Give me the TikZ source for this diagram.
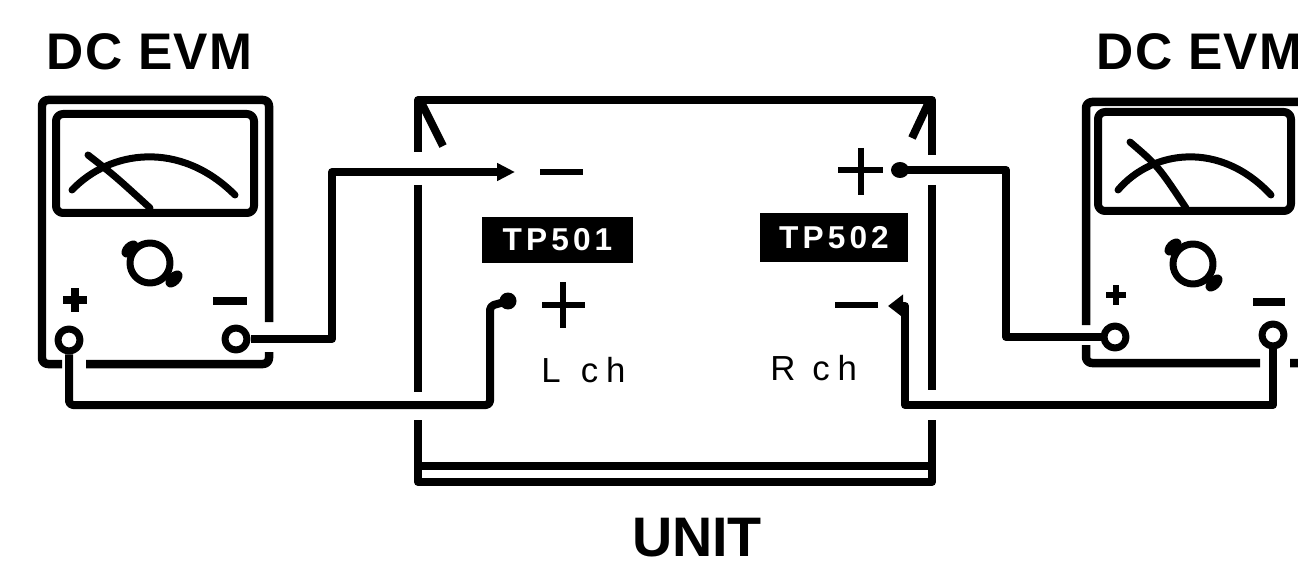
\documentclass[tikz,border=0pt]{standalone}
\usepackage{fontspec}
\newfontfamily\labelfont{Liberation Sans}
\newfontfamily\titlefont[LetterSpace=3]{Liberation Sans}
\newfontfamily\tpfont[LetterSpace=13]{Liberation Sans}
\usetikzlibrary{arrows.meta}
\begin{document}
\begin{tikzpicture}[x=0.02cm,y=-0.02cm,line join=round,
  frame/.style={line width=0.17cm, rounded corners=0.12cm},
  window/.style={line width=0.16cm, rounded corners=0.14cm},
  dial/.style={line width=0.14cm, line cap=round},
  box/.style={line width=0.16cm},
  wire/.style={line width=0.16cm},
  term/.style={circle, draw, line width=0.14cm, minimum size=0.44cm, inner sep=0pt, fill=white},
  sign/.style={line width=0.13cm},
  tpbox/.style={fill=black, text=white, inner sep=0pt, font=\tpfont\bfseries\fontsize{18}{18}\selectfont},
  title/.style={font=\titlefont\bfseries\fontsize{29.3}{30}\selectfont, inner sep=0pt, text depth=0pt},
  unitlabel/.style={font=\labelfont\bfseries\fontsize{31.7}{32}\selectfont, inner sep=0pt, text depth=0pt},
  chan/.style={font=\labelfont\fontsize{19.8}{20}\selectfont, inner sep=0pt, text depth=0pt}]
\useasboundingbox (0,0) rectangle (1298,564);
\clip (0,0) rectangle (1298,564);

% ---------- left DC EVM ----------
\node[title, anchor=base west] (evmL) at (46,70) {DC EVM};
\draw[frame] (62,364) -- (42,364) -- (42,100) -- (269,100) -- (269,322);
\draw[frame] (269,352) -- (269,364) -- (86,364);
\draw[window] (56,114) rectangle (254,213);
\draw[dial] (72,190) .. controls (110,150) and (180,140) .. (235,195);
\draw[dial] (88,155) .. controls (115,176) .. (150,208);
\draw[line width=0.14cm] (150,263) circle (0.4cm);
\fill[rotate around={45:(130,249)}] (130,249) ellipse (0.2cm and 0.13cm);
\fill[rotate around={45:(174,279)}] (174,279) ellipse (0.2cm and 0.13cm);
\draw[line width=0.15cm] (63,300) -- (87,300) (75,288) -- (75,312);
\draw[line width=0.15cm] (213,301) -- (247,301);
\node[term] (Lp) at (69,340) {};
\node[term] (Lm) at (236,339) {};

% ---------- right DC EVM ----------
\node[title, anchor=base west] (evmR) at (1096,70) {DC EVM};
\draw[frame] (1086,325) -- (1086,102) -- (1330,102) -- (1330,363) -- (1290,363);
\draw[frame] (1086,345) -- (1086,363) -- (1260,363);
\draw[window] (1098,112) rectangle (1291,211);
\draw[dial] (1118,190) .. controls (1152,150) and (1220,140) .. (1271,195);
\draw[dial] (1130,142) .. controls (1158,166) .. (1186,208);
\draw[line width=0.14cm] (1193,264) circle (0.4cm);
\fill[rotate around={45:(1173,247)}] (1173,247) ellipse (0.2cm and 0.13cm);
\fill[rotate around={45:(1214,283)}] (1214,283) ellipse (0.2cm and 0.13cm);
\draw[line width=0.13cm] (1106,295) -- (1126,295) (1116,285) -- (1116,305);
\draw[line width=0.15cm] (1253,302) -- (1285,302);
\node[term] (Rp) at (1115,337) {};
\node[term] (Rm) at (1273,335) {};

% ---------- unit under test ----------
\draw[box] (418,152) -- (418,100) -- (932,100) -- (932,155);
\draw[box] (418,185) -- (418,392);
\draw[box] (932,185) -- (932,390);
\draw[box] (418,420) -- (418,482) -- (932,482) -- (932,420);
\draw[box] (418,466) -- (932,466);
\draw[box] (422,104) -- (443,146);
\draw[box] (928,104) -- (912,138);
\node[unitlabel, anchor=base] (unit) at (697,556) {UNIT};

% test points
\node[tpbox, minimum width=3.02cm, minimum height=0.92cm] (tp1) at (557.5,240) {TP501};
\node[tpbox, minimum width=2.96cm, minimum height=0.98cm] (tp2) at (834,237.5) {TP502};
\draw[sign] (540,172) -- (583,172);
\draw[sign] (542,305) -- (585,305) (563,282) -- (563,328);
\draw[sign] (838,170) -- (883,170) (861,148) -- (861,195);
\draw[sign] (835,305) -- (878,305);
\node[chan, anchor=base west] (lch) at (541,382) {L\kern11.5pt c\kern4.5pt h};
\node[chan, anchor=base west] (rch) at (770,380) {R\kern9.6pt c\kern4.5pt h};

% ---------- leads ----------
\coordinate (Larrow) at (515,172);
\coordinate (Ldot) at (508,301);
\coordinate (Rdot) at (900,170);
\coordinate (Rtip) at (888,306);
\draw[wire,-{Triangle[length=0.36cm,width=0.34cm]}] (Lm.east) -- (332,339) -- (332,172) -- (Larrow);
\draw[wire,rounded corners=0.08cm] (Lp.south) -- (69,405) -- (490,405) -- (490,306) -- (Ldot);
\fill (Ldot) circle (0.17cm);
\draw[wire] (Rp.west) -- (1006,337) -- (1006,170) -- (Rdot);
\fill (Rdot) ellipse (0.18cm and 0.16cm);
\draw[wire,-{Triangle[length=0.3cm,width=0.44cm]}] (Rm.south) -- (1273,405) -- (905,405) -- (905,306) -- (Rtip);
\end{tikzpicture}
\end{document}
